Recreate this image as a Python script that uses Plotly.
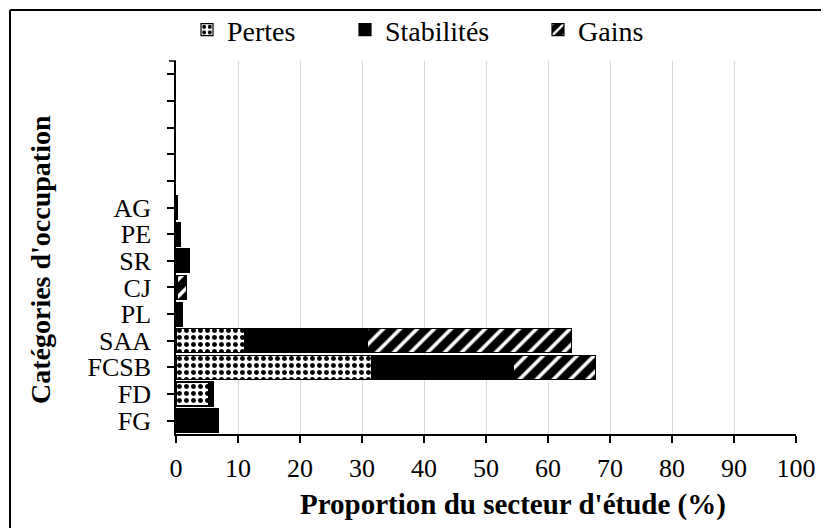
import plotly.graph_objects as go

categories = ["FG", "FD", "FCSB", "SAA", "PL", "CJ", "SR", "PE", "AG"]
empty_slots = [" ", "  ", "   ", "    ", "     "]
pertes = [None, 5.2, 31.6, 11.0, None, None, None, None, None]
stabilites = [6.9, 0.9, 22.8, 19.8, 1.0, 0.2, 2.1, 0.7, 0.3]
gains = [None, None, 13.3, 33.0, None, 1.5, None, None, None]
x_ticks = [0, 10, 20, 30, 40, 50, 60, 70, 80, 90, 100]

FONT = "Liberation Serif, Times New Roman, serif"
OFF = 8  # page body margin
W, H = 829, 528
# target plot area in window pixels: x 176..796, y 61..434
L, R, T, B = 176 - OFF, W - (796 - OFF), 61 - OFF, H - (434 - OFF)
PW, PH = W - L - R, H - T - B

fig = go.Figure()
fig.add_trace(go.Bar(
    y=categories, x=pertes, orientation="h", name="Pertes", legend="legend",
    marker=dict(color="white", line=dict(color="black", width=1.2),
                pattern=dict(shape=".", fgcolor="black", bgcolor="white",
                             size=7, solidity=0.4, fillmode="replace")),
))
fig.add_trace(go.Bar(
    y=categories, x=stabilites, orientation="h", name="Stabilités", legend="legend2",
    marker=dict(color="black", line=dict(color="black", width=1.2)),
))
fig.add_trace(go.Bar(
    y=categories, x=gains, orientation="h", name="Gains", legend="legend3",
    marker=dict(color="black", line=dict(color="black", width=1.2),
                pattern=dict(shape="/", fgcolor="white", bgcolor="black",
                             size=12, solidity=0.3, fillmode="replace")),
))


def px_to_paper_x(px):
    return (px - OFF - L) / PW


def px_to_paper_y(py):
    return 1 - (py - OFF - T) / PH


def leg(xpx):
    return dict(orientation="h", yanchor="middle", xanchor="left",
                x=px_to_paper_x(xpx), y=px_to_paper_y(30),
                font=dict(family=FONT, size=28, color="black"),
                bgcolor="rgba(0,0,0,0)", borderwidth=0, itemwidth=30)


fig.update_layout(
    template="none",
    width=W, height=H,
    margin=dict(l=L, r=R, t=T, b=B, pad=0, autoexpand=False),
    paper_bgcolor="white", plot_bgcolor="white",
    barmode="stack", bargap=0.1,
    font=dict(family=FONT, color="black", size=25),
    showlegend=True,
    legend=leg(187),
    legend2=leg(345),
    legend3=leg(538),
    xaxis=dict(
        range=[0, 100], tickvals=x_ticks, showgrid=True, gridcolor="#d9d9d9", gridwidth=1,
        showline=True, linecolor="black", linewidth=1.5, automargin=False,
        ticks="outside", ticklen=7, tickwidth=1.5, tickcolor="black",
        ticklabelstandoff=3,
        tickfont=dict(family=FONT, size=26, color="black"), zeroline=False,
    ),
    yaxis=dict(
        type="category", categoryorder="array", categoryarray=categories + empty_slots,
        tickmode="array", tickvals=categories + empty_slots, ticktext=categories + empty_slots,
        range=[-0.5, len(categories) + len(empty_slots) - 0.5], automargin=False,
        showgrid=False, showline=True, linecolor="black", linewidth=1.5,
        ticks="outside", ticklen=7, tickwidth=1.5, tickcolor="black",
        ticklabelstandoff=11,
        tickfont=dict(family=FONT, size=26, color="black"),
    ),
    annotations=[
        dict(text="<b>Proportion du secteur d'étude (%)</b>", xref="paper", yref="paper",
             x=px_to_paper_x(513), y=px_to_paper_y(505), xanchor="center", yanchor="middle",
             showarrow=False, font=dict(family=FONT, size=29, color="black")),
        dict(text="<b>Catégories d'occupation</b>", xref="paper", yref="paper",
             x=px_to_paper_x(40), y=px_to_paper_y(260), xanchor="center", yanchor="middle",
             textangle=-90, showarrow=False, font=dict(family=FONT, size=28, color="black")),
    ],
    shapes=[
        dict(type="line", xref="paper", yref="paper",
             x0=px_to_paper_x(10), x1=px_to_paper_x(10), y0=px_to_paper_y(10), y1=-1,
             line=dict(color="black", width=2)),
        dict(type="line", xref="paper", yref="paper",
             x0=px_to_paper_x(10), x1=2, y0=px_to_paper_y(10), y1=px_to_paper_y(10),
             line=dict(color="black", width=2)),
        dict(type="line", xref="paper", yref="paper",
             x0=px_to_paper_x(169), x1=0, y0=1, y1=1,
             line=dict(color="black", width=1.5)),
    ],
)

fig.write_html("out.html")
